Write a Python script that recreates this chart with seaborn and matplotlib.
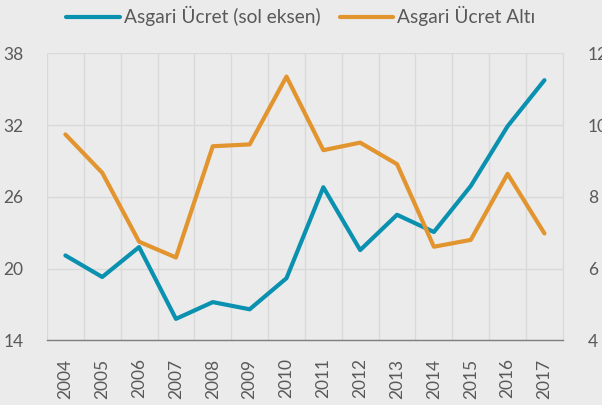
import matplotlib
matplotlib.use("Agg")
import matplotlib.pyplot as plt
import numpy as np
import pandas as pd
import seaborn as sns

# values
years = ["2004", "2005", "2006", "2007", "2008", "2009", "2010",
         "2011", "2012", "2013", "2014", "2015", "2016", "2017"]
asgari_ucret = [21.1, 19.3, 21.8, 15.8, 17.2, 16.6, 19.2,
                26.8, 21.55, 24.5, 23.06, 26.9, 31.9, 35.75]      # left axis
asgari_alti = [9.74, 8.67, 6.75, 6.31, 9.41, 9.46, 11.35,
               9.30, 9.51, 8.91, 6.61, 6.80, 8.64, 6.98]          # right axis

left_ticks = [14, 20, 26, 32, 38]
right_ticks = [4, 6, 8, 10, 12]

blue = "#0A91B0"
orange = "#E2942F"
txt = "#595959"
bg = "#EBEBEB"
grid = "#D9D9D9"

df = pd.DataFrame({"pos": np.arange(len(years)),
                   "ucret": asgari_ucret,
                   "alti": asgari_alti})

sns.set_style("white")
plt.rcParams["font.family"] = ["Lato", "DejaVu Sans"]

fig = plt.figure(figsize=(6.02, 4.05), dpi=100, facecolor=bg)
ax = fig.add_axes([0.078, 0.1595, 0.857, 0.709])
ax.set_facecolor(bg)
ax2 = ax.twinx()

sns.lineplot(data=df, x="pos", y="ucret", ax=ax, color=blue, lw=3,
             label="Asgari Ücret (sol eksen)", legend=False)
sns.lineplot(data=df, x="pos", y="alti", ax=ax2, color=orange, lw=3,
             label="Asgari Ücret Altı", legend=False)

n = len(years)
ax.set_xlim(-0.5, n - 0.5)
ax.set_ylim(14, 38)
ax2.set_ylim(4, 12)

# gridlines on category boundaries, labels at centers
ax.set_xticks(np.arange(n + 1) - 0.5)
ax.set_xticklabels([])
ax.set_xticks(np.arange(n), minor=True)
ax.set_xticklabels(years, minor=True, rotation=90, color=txt, fontsize=12.5)
ax.tick_params(axis="x", which="major", length=6, width=1, color="#7F7F7F", direction="out")
ax.tick_params(axis="x", which="minor", length=0, pad=13)

ax.set_yticks(left_ticks)
ax.set_yticklabels([str(t) for t in left_ticks], color=txt, fontsize=12.5)
ax.tick_params(axis="y", length=0, pad=17)
ax2.set_yticks(right_ticks)
ax2.set_yticklabels([str(t) for t in right_ticks], color=txt, fontsize=12.5)
ax2.tick_params(axis="y", length=0, pad=18)

ax.grid(True, which="major", color=grid, lw=1)
ax.set_axisbelow(True)
ax.set_xlabel("")
ax.set_ylabel("")
ax2.set_ylabel("")

for a in (ax, ax2):
    for s in ("top", "left", "right", "bottom"):
        a.spines[s].set_visible(False)
ax.spines["bottom"].set_visible(True)
ax.spines["bottom"].set_color("#7F7F7F")
ax.spines["bottom"].set_linewidth(1)
ax.spines["right"].set_visible(True)
ax.spines["right"].set_color(grid)

h1, l1 = ax.get_legend_handles_labels()
h2, l2 = ax2.get_legend_handles_labels()
fig.legend(h1 + h2, l1 + l2, loc="center", bbox_to_anchor=(0.5, 0.96),
           ncol=2, frameon=False, fontsize=13.8, labelcolor=txt,
           handlelength=2.8, handletextpad=0.2, columnspacing=1.0)

fig.savefig("out.png", dpi=100, facecolor=bg)
